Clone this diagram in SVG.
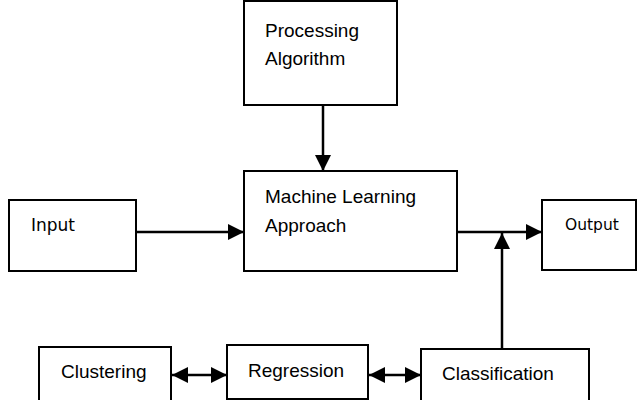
<svg xmlns="http://www.w3.org/2000/svg" width="637" height="400" viewBox="0 0 637 400">
<style>
.box{fill:#fff;stroke:#000;stroke-width:2}
.t{font-family:"Liberation Sans",Arial,sans-serif;font-size:19px;fill:#000}
.d{font-family:"DejaVu Sans",Verdana,sans-serif;fill:#000}
.c{fill:none;stroke:#000;stroke-width:2.5}
</style>
<defs>
<marker id="ah" markerUnits="userSpaceOnUse" markerWidth="16" markerHeight="16" refX="14" refY="7" orient="auto-start-reverse" viewBox="0 0 14 14">
<path d="M0,0 L14,7 L0,14 Z" fill="#000"/>
</marker>
</defs>
<rect width="637" height="400" fill="#fff"/>
<g id="connectors">
<line class="c" x1="323" y1="105" x2="323" y2="171" marker-end="url(#ah)"/>
<line class="c" x1="136" y1="232" x2="244" y2="232" marker-end="url(#ah)"/>
<line class="c" x1="457" y1="232" x2="542" y2="232" marker-end="url(#ah)"/>
<line class="c" x1="502" y1="349" x2="502" y2="233" marker-end="url(#ah)"/>
<line class="c" x1="172" y1="375" x2="227" y2="375" marker-start="url(#ah)" marker-end="url(#ah)"/>
<line class="c" x1="369" y1="375" x2="421" y2="375" marker-start="url(#ah)" marker-end="url(#ah)"/>
</g>
<g id="processing">
<rect class="box" x="244" y="1" width="153" height="104"/>
<text class="t" x="265" y="37">Processing</text>
<text class="t" x="265" y="65">Algorithm</text>
</g>
<g id="ml">
<rect class="box" x="244" y="171" width="213" height="100"/>
<text class="t" x="265" y="203">Machine Learning</text>
<text class="t" x="265" y="232">Approach</text>
</g>
<g id="input">
<rect class="box" x="9" y="200" width="127" height="71"/>
<text class="d" x="31" y="231" font-size="17">Input</text>
</g>
<g id="output">
<rect class="box" x="542" y="200" width="94" height="70"/>
<text class="d" x="565" y="230" font-size="15.5">Output</text>
</g>
<g id="clustering">
<rect class="box" x="39" y="347" width="132" height="60"/>
<text class="t" x="61" y="378">Clustering</text>
</g>
<g id="regression">
<rect class="box" x="227" y="345" width="141" height="54"/>
<text class="t" x="248" y="377">Regression</text>
</g>
<g id="classification">
<rect class="box" x="421" y="349" width="168" height="60"/>
<text class="t" x="442" y="380">Classification</text>
</g>
</svg>
